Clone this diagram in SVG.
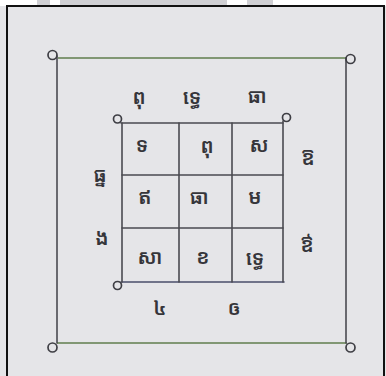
<svg xmlns="http://www.w3.org/2000/svg" width="386" height="376" viewBox="0 0 386 376">
<style>
.ln{stroke:#4a4a50;stroke-width:1.6;fill:none;stroke-linecap:round}
.gr{stroke:#5f7d4e;stroke-width:1.6;fill:none}
.lp{stroke:#3e3e44;stroke-width:1.7;fill:none}
.k{font-family:"Noto Sans Khmer","Khmer OS","Noto Serif Khmer","Noto Sans",sans-serif;font-size:20px;font-weight:600;fill:#35353a;text-anchor:middle;dominant-baseline:central}
</style>
<rect width="386" height="376" fill="#e5e5e8"/>
<rect x="0" y="0" width="386" height="6" fill="#ffffff"/>
<rect x="37" y="0" width="13" height="6" fill="#d0d0d4"/>
<rect x="60" y="0" width="167" height="6" fill="#d0d0d4"/>
<rect x="247" y="0" width="26" height="6" fill="#d0d0d4"/>
<path d="M7,376 V6 H384 V376" stroke="#111" stroke-width="2" fill="none"/>
<g id="outer-frame">
<line class="gr" x1="58" y1="58" x2="346" y2="58"/>
<line class="gr" x1="57" y1="343" x2="347" y2="343"/>
<line class="ln" x1="57" y1="56" x2="57" y2="343"/>
<line class="ln" x1="346" y1="58" x2="346" y2="343"/>
<circle class="lp" cx="52.5" cy="55" r="4.5"/>
<circle class="lp" cx="350.5" cy="59" r="4.5"/>
<circle class="lp" cx="52.5" cy="347.5" r="4.5"/>
<circle class="lp" cx="350.5" cy="347.5" r="4.5"/>
</g>
<g id="grid">
<line class="ln" x1="121" y1="123" x2="283" y2="123"/>
<line class="ln" x1="122" y1="175" x2="283" y2="175"/>
<line class="ln" x1="122" y1="228" x2="283" y2="228"/>
<line class="ln" x1="121" y1="282" x2="284" y2="282" style="stroke:#4a4e6a"/>
<line class="ln" x1="122" y1="123" x2="122" y2="282"/>
<line class="ln" x1="179" y1="123" x2="179" y2="282"/>
<line class="ln" x1="232" y1="123" x2="232" y2="282"/>
<line class="ln" x1="283" y1="121" x2="283" y2="282"/>
<circle class="lp" cx="117.5" cy="119" r="4"/>
<circle class="lp" cx="286.5" cy="117.5" r="4"/>
<circle class="lp" cx="117.5" cy="285.5" r="4"/>
</g>
<g id="texts">
<text class="k" x="139" y="96">ពុ</text>
<text class="k" x="192" y="96">ទ្ធេ</text>
<text class="k" x="257" y="95">ធា</text>
<text class="k" x="142" y="144">ទ</text>
<text class="k" x="207" y="145">ពុ</text>
<text class="k" x="259" y="144">ស</text>
<text class="k" x="145" y="196">ឥ</text>
<text class="k" x="199" y="196">ធា</text>
<text class="k" x="255" y="196">ម</text>
<text class="k" x="150" y="256">សា</text>
<text class="k" x="203" y="256">ខ</text>
<text class="k" x="255" y="257">ទ្ធេ</text>
<text class="k" x="100" y="174">ធ្ន</text>
<text class="k" x="102" y="237">ង</text>
<text class="k" x="308" y="157">ឱ</text>
<text class="k" x="307" y="244">ឳ</text>
<text class="k" x="160" y="307">៤</text>
<text class="k" x="234" y="307">ឲ</text>
</g>
</svg>
